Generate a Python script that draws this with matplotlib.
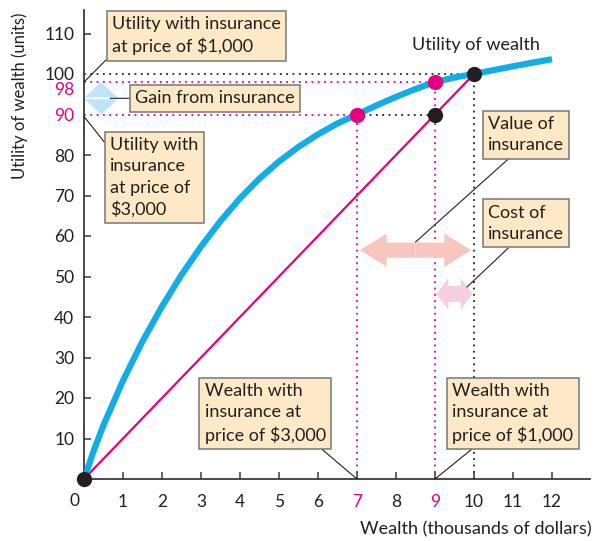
import matplotlib
matplotlib.use("Agg")
import matplotlib.pyplot as plt
from matplotlib.patches import FancyArrowPatch

# ---- data -------------------------------------------------------------
wealth = [0, 0.25, 0.5, 1, 1.5, 2, 2.5, 3, 3.5, 4, 4.5, 5, 5.5, 6, 6.5, 7,
          7.5, 8, 8.5, 9, 9.5, 10, 10.5, 11, 11.5, 12]
utility = [0, 7.0, 13.3, 24.3, 34.0, 42.6, 50.4, 57.4, 63.7, 69.3, 74.2, 78.4,
           82.0, 85.1, 87.8, 90.0, 92.25, 94.35, 96.3, 98.0, 99.15, 100.0,
           100.95, 101.9, 102.8, 103.65]

# straight line between "lose everything" and "no loss"
line_wealth = [0, 10]
line_utility = [0, 100]

wealth_no_loss = 10
utility_no_loss = 100
wealth_price_1000 = 9
utility_price_1000 = 98
wealth_price_3000 = 7
utility_price_3000 = 90

x_ticks = [1, 2, 3, 4, 5, 6, 7, 8, 9, 10, 11, 12]
y_ticks = [10, 20, 30, 40, 50, 60, 70, 80, 90, 100, 110]
highlight_x = [7, 9]
highlight_y = [90, 98]

# ---- style ------------------------------------------------------------
BLUE = "#12ace6"
MAGENTA = "#e5007d"
INK = "#231f20"
AXIS = "#3a3a3a"
BOX_FACE = "#fde9c6"
BOX_EDGE = "#777777"
SALMON = "#f8c6bd"
PINK = "#f7cde0"
LIGHT_BLUE = "#bfe4f7"
TICK_FS = 12.5
TEXT_FS = 13

plt.rcParams["font.family"] = ["Lato", "DejaVu Sans"]

fig = plt.figure(figsize=(5.94, 5.41), dpi=100)
px_x, px_y = 39.0, 4.05
ax = fig.add_axes([84 / 594, 62 / 541, 506 / 594, 469 / 541])
ax.set_xlim(0, 506 / px_x)
ax.set_ylim(0, 469 / px_y)

for side in ("top", "right"):
    ax.spines[side].set_visible(False)
for side in ("left", "bottom"):
    ax.spines[side].set_color(AXIS)
    ax.spines[side].set_linewidth(1.3)

ax.set_xticks(x_ticks)
ax.set_xticklabels([str(v) for v in x_ticks])
ax.set_yticks(y_ticks)
ax.set_yticklabels([str(v) for v in y_ticks])
ax.tick_params(axis="both", direction="in", length=5, width=1.1, color=AXIS,
               labelsize=TICK_FS, labelcolor=INK)
ax.tick_params(axis="x", pad=11)
ax.tick_params(axis="y", pad=7)
for v, lab in zip(x_ticks, ax.get_xticklabels()):
    if v in highlight_x:
        lab.set_color(MAGENTA)
for v, lab, tk in zip(y_ticks, ax.get_yticklabels(), ax.yaxis.get_major_ticks()):
    if v in highlight_y:
        lab.set_color(MAGENTA)
    if v in highlight_y or v == utility_no_loss:
        tk.tick1line.set_visible(False)

# "98" sits just under "100", nudged down so the two do not collide
ax.annotate("98", xy=(0, utility_price_1000), xytext=(-7, -6), textcoords="offset points",
            ha="right", va="center", fontsize=TICK_FS, color=MAGENTA, annotation_clip=False)
ax.annotate("0", xy=(0, 0), xytext=(-6.5, -16), textcoords="offset points",
            ha="center", va="center", fontsize=TICK_FS, color=INK, annotation_clip=False)

# ---- dotted guides ----------------------------------------------------
dots = dict(lw=1.3, linestyle=(0, (1, 2.5)), zorder=1)
ax.plot([0, wealth_no_loss], [utility_no_loss, utility_no_loss], color=INK, **dots)
ax.plot([wealth_no_loss, wealth_no_loss], [0, utility_no_loss], color=INK, **dots)
ax.plot([wealth_price_3000, wealth_price_1000], [utility_price_3000, utility_price_3000],
        color=INK, **dots)
ax.plot([0, wealth_price_1000], [utility_price_1000, utility_price_1000], color=MAGENTA, **dots)
ax.plot([wealth_price_1000, wealth_price_1000], [0, utility_price_1000], color=MAGENTA, **dots)
ax.plot([0, wealth_price_3000], [utility_price_3000, utility_price_3000], color=MAGENTA, **dots)
ax.plot([wealth_price_3000, wealth_price_3000], [0, utility_price_3000], color=MAGENTA, **dots)

# ---- main curves ------------------------------------------------------
ax.plot(line_wealth, line_utility, color=MAGENTA, lw=1.6, zorder=3, solid_capstyle="butt")
ax.plot(wealth, utility, color=BLUE, lw=4.5, zorder=4, solid_capstyle="butt",
        solid_joinstyle="round")

ax.plot([0, wealth_no_loss, wealth_price_1000], [0, utility_no_loss, utility_price_3000],
        "o", color=INK, ms=10, zorder=6, clip_on=False)
ax.plot([wealth_price_3000, wealth_price_1000], [utility_price_3000, utility_price_1000],
        "o", color=MAGENTA, ms=10, zorder=6)


# ---- double-headed block arrows --------------------------------------
def block_arrow(p0, p1, color, head_length, head_width, tail_width, shrink=0):
    mid = ((p0[0] + p1[0]) / 2, (p0[1] + p1[1]) / 2)
    style = f"simple,head_length={head_length},head_width={head_width},tail_width={tail_width}"
    for end in (p0, p1):
        ax.add_patch(FancyArrowPatch(mid, end, arrowstyle=style, mutation_scale=1,
                                     color=color, lw=0, shrinkA=0, shrinkB=shrink,
                                     zorder=2))


block_arrow((wealth_price_3000, 56.5), (wealth_no_loss, 56.5), SALMON, 19.4, 23.8, 10.8, shrink=2)
block_arrow((wealth_price_1000, 45.7), (wealth_no_loss, 45.7), PINK, 8.6, 23, 11.5, shrink=1)
block_arrow((0.44, utility_price_1000), (0.44, utility_price_3000), LIGHT_BLUE, 11, 23.8, 0.5)

# ---- labels -----------------------------------------------------------
box = dict(boxstyle="square,pad=0.3", fc=BOX_FACE, ec=BOX_EDGE, lw=1.1)
lead = dict(arrowstyle="-", color=INK, lw=0.8, shrinkA=0, shrinkB=0)


def callout(text, xy, xytext, relpos, va="top"):
    ax.annotate(text, xy=xy, xytext=xytext, ha="left", va=va, fontsize=TEXT_FS,
                color=INK, bbox=box, linespacing=1.4, zorder=8,
                arrowprops=dict(lead, relpos=relpos), annotation_clip=False)


callout("Utility with insurance\nat price of $1,000", (0, utility_price_1000), (0.72, 114.3), (0, 0.04))
callout("Gain from insurance", (0.67, 94), (1.31, 94), (0, 0.5), va="center")
callout("Utility with\ninsurance\nat price of\n$3,000", (0, 89.5), (0.67, 84.4), (0, 0.85))
callout("Value of\ninsurance", (8.5, 58.5), (10.36, 89.6), (0.35, 0))
callout("Cost of\ninsurance", (9.82, 47.4), (10.36, 67.7), (0.35, 0))
callout("Wealth with\ninsurance at\nprice of $3,000", (wealth_price_3000, 0), (3.10, 23.7), (0.91, 0))
callout("Wealth with\ninsurance at\nprice of $1,000", (wealth_price_1000, 0), (9.44, 23.7), (0.22, 0))

ax.text(10.05, 107.2, "Utility of wealth", ha="center", va="center", fontsize=TEXT_FS, color=INK)

fig.text(20 / 594, 1 - 96 / 541, "Utility of wealth (units)", rotation=90,
         ha="center", va="center", fontsize=12, color=INK)
fig.text(592 / 594, 1 - 529 / 541, "Wealth (thousands of dollars)",
         ha="right", va="center", fontsize=13, color=INK)

fig.savefig("out.png", dpi=100)
